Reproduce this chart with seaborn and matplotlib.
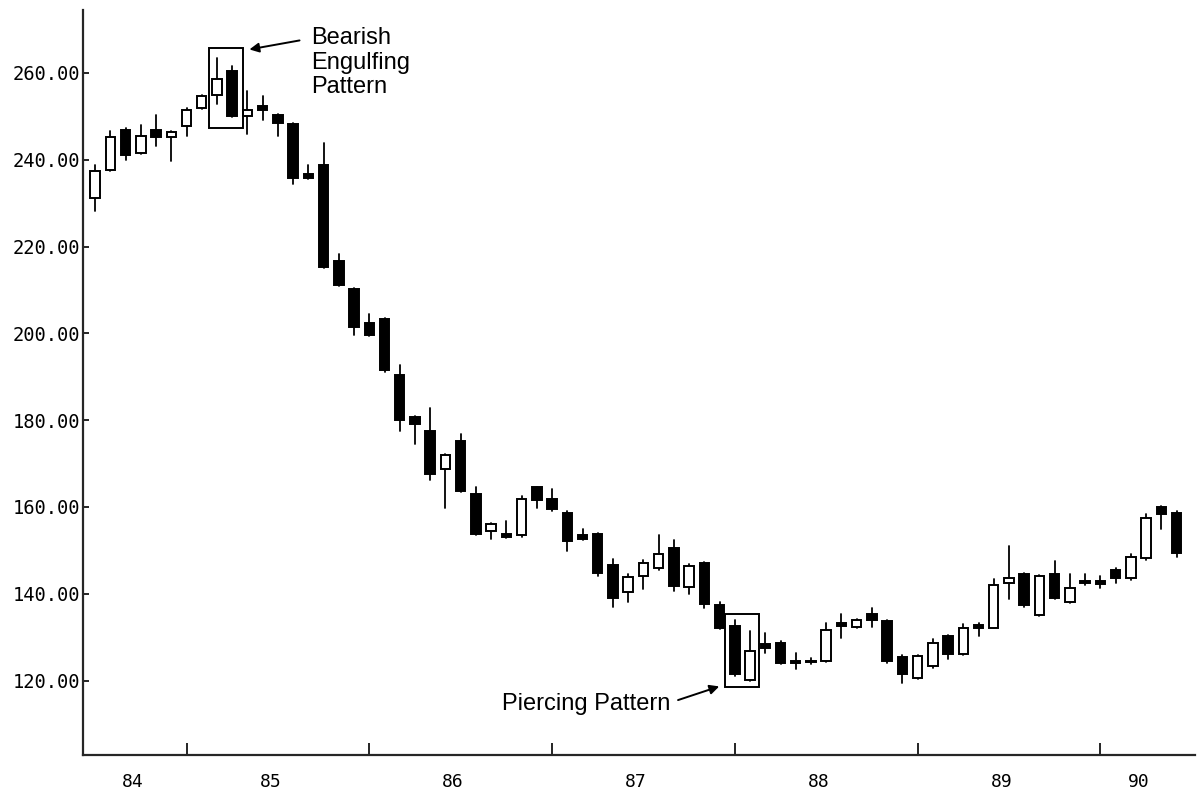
import matplotlib
matplotlib.use("Agg")
import matplotlib.pyplot as plt
from matplotlib.patches import Rectangle
import numpy as np
import pandas as pd
import seaborn as sns

# monthly candles, Jul 1984 .. Jun 1990
months = pd.period_range("1984-07", "1990-06", freq="M")

open_ = [
    231.1, 237.7, 246.9, 241.6, 246.9, 245.3, 247.8, 252.0, 255.0, 260.5,
    250.1, 252.4, 250.4, 248.3, 236.8, 238.9, 216.6, 210.2, 202.4, 203.3,
    190.5, 180.8, 177.6, 168.7, 175.1, 162.9, 154.4, 153.7, 153.5, 164.5,
    161.8, 158.6, 153.5, 153.7, 146.6, 140.4, 144.1, 145.9, 150.5, 141.6,
    147.1, 137.4, 132.6, 120.2, 128.5, 128.7, 124.4, 124.6, 124.6, 133.3,
    132.4, 135.4, 133.8, 125.5, 120.7, 123.4, 130.3, 126.2, 132.9, 132.2,
    142.5, 144.6, 135.1, 144.6, 138.1, 142.9, 142.9, 145.5, 143.6, 148.2,
    160.0, 158.6,
]
high = [
    238.7, 246.7, 247.3, 248.0, 250.4, 246.7, 252.0, 255.0, 263.4, 261.6,
    255.9, 254.7, 250.6, 248.5, 238.9, 243.9, 218.2, 210.5, 204.5, 203.5,
    192.8, 181.0, 182.9, 172.3, 176.9, 164.5, 156.2, 156.7, 162.5, 164.7,
    164.1, 159.0, 154.9, 154.0, 148.0, 144.6, 147.8, 153.5, 152.4, 146.8,
    147.3, 138.0, 134.0, 131.5, 131.0, 129.0, 126.4, 125.3, 133.3, 135.4,
    134.2, 136.8, 134.0, 126.0, 126.0, 129.6, 130.5, 133.1, 133.3, 143.4,
    150.9, 144.8, 144.4, 147.5, 144.6, 144.6, 144.1, 146.0, 149.1, 158.3,
    160.2, 159.0,
]
low = [
    228.3, 237.5, 240.0, 241.3, 243.2, 239.6, 245.5, 251.8, 252.9, 249.8,
    246.0, 249.2, 245.5, 234.3, 235.5, 215.0, 210.8, 199.6, 199.4, 191.2,
    177.4, 174.4, 166.1, 159.7, 163.4, 153.5, 152.6, 152.8, 153.0, 159.7,
    159.0, 149.8, 152.3, 144.1, 137.0, 138.1, 141.1, 145.5, 140.7, 140.0,
    136.8, 131.8, 121.0, 119.8, 126.4, 123.8, 122.7, 123.9, 124.3, 129.8,
    132.2, 132.4, 124.0, 119.5, 120.4, 123.0, 125.0, 125.8, 130.3, 132.0,
    138.8, 137.0, 134.8, 138.7, 137.8, 142.0, 141.3, 142.5, 143.2, 147.8,
    154.9, 148.5,
]
close = [
    237.3, 245.3, 241.0, 245.5, 245.3, 246.5, 251.5, 254.7, 258.6, 250.0,
    251.5, 251.5, 248.5, 235.9, 235.9, 215.2, 211.1, 201.5, 199.6, 191.6,
    180.1, 179.0, 167.5, 171.9, 163.6, 153.7, 156.0, 153.0, 161.8, 161.5,
    159.5, 152.1, 152.6, 144.8, 139.0, 143.9, 147.1, 149.1, 141.8, 146.4,
    137.7, 132.2, 121.6, 126.7, 127.6, 124.1, 124.0, 124.3, 131.7, 132.6,
    134.0, 134.0, 124.4, 121.6, 125.7, 128.7, 126.2, 132.2, 132.2, 142.0,
    143.6, 137.4, 144.1, 139.0, 141.3, 142.5, 142.2, 143.6, 148.5, 157.4,
    158.3, 149.4,
]

y_ticks = [120, 140, 160, 180, 200, 220, 240, 260]
year_labels = ["84", "85", "86", "87", "88", "89", "90"]

df = pd.DataFrame({"month": months, "open": open_, "high": high,
                   "low": low, "close": close})
df["x"] = np.arange(len(df))
df["up"] = df["close"] > df["open"]

wicks = pd.concat([
    df[["x"]].assign(candle=df["x"], price=df["high"]),
    df[["x"]].assign(candle=df["x"], price=df["low"]),
]).sort_values(["candle", "price"])

sns.set_style("ticks")
plt.rcParams["font.family"] = ["Liberation Sans", "DejaVu Sans"]
plt.rcParams["text.color"] = "black"
plt.rcParams["xtick.color"] = "black"
plt.rcParams["ytick.color"] = "black"

fig = plt.figure(figsize=(12.02, 8), dpi=100)
ax = fig.add_axes([0.069, 0.056, 0.925, 0.9315])

sns.lineplot(data=wicks, x="x", y="price", units="candle", estimator=None,
             sort=False, color="black", linewidth=1.3, ax=ax, zorder=2)

ax.bar(df["x"], (df["close"] - df["open"]).abs(),
       bottom=df[["open", "close"]].min(axis=1), width=0.62,
       color=np.where(df["up"], "white", "black"), edgecolor="black",
       linewidth=1.4, zorder=3)

# pattern boxes and notes
ax.add_patch(Rectangle((7.45, 247.4), 2.25, 18.3, fill=False,
                       edgecolor="black", linewidth=1.4, zorder=4))
ax.add_patch(Rectangle((41.35, 118.4), 2.22, 17.0, fill=False,
                       edgecolor="black", linewidth=1.4, zorder=4))

ax.annotate("", xy=(9.95, 265.3), xytext=(13.6, 267.6),
            arrowprops=dict(arrowstyle="-|>", color="black", lw=1.4,
                            mutation_scale=14))
ax.text(14.15, 262.3, "Bearish\nEngulfing\nPattern", fontsize=17,
        va="center", ha="left", linespacing=1.15)

ax.annotate("", xy=(41.15, 118.85), xytext=(38.1, 115.3),
            arrowprops=dict(arrowstyle="-|>", color="black", lw=1.4,
                            mutation_scale=14))
ax.text(37.8, 114.7, "Piercing Pattern", fontsize=17, va="center",
        ha="right")

ax.set_xlim(-0.8, 72.2)
ax.set_ylim(102.8, 274.5)

# year boundaries as ticks, year names centred on each year's months
years = df["month"].dt.year
year_starts = df.loc[(df["month"].dt.month == 1), "x"].to_numpy()
year_mids = df.groupby(years)["x"].mean().to_numpy()
ax.set_xticks(year_starts)
ax.set_xticklabels([])
ax.set_xticks(year_mids, minor=True)
ax.set_xticklabels(year_labels, minor=True, family="DejaVu Sans Mono",
                   fontsize=13)
ax.tick_params(axis="x", which="major", direction="in", length=9, width=1.2)
ax.tick_params(axis="x", which="minor", length=0, pad=13)

ax.set_yticks(y_ticks)
ax.set_yticklabels([f"{v:.2f}" for v in y_ticks], family="DejaVu Sans Mono",
                   fontsize=13.5)
ax.tick_params(axis="y", direction="in", length=4, width=1.2, pad=2)

ax.set_xlabel("")
ax.set_ylabel("")
sns.despine(ax=ax)
for side in ["left", "bottom"]:
    ax.spines[side].set_linewidth(1.6)

fig.savefig("out.png", dpi=100)
